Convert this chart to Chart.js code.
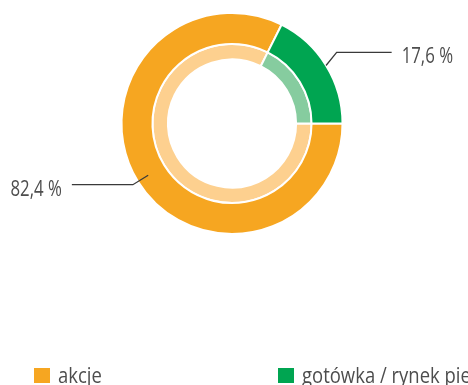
<!DOCTYPE html>
<html lang="pl">
<head>
<meta charset="utf-8">
<script src="https://cdn.jsdelivr.net/npm/chart.js@4.4.1/dist/chart.umd.min.js"></script>
<style>
  html, body { margin: 0; padding: 0; background: #fff; }
  #wrap { position: relative; width: 468px; height: 385px; overflow: hidden; }
</style>
</head>
<body>
<div id="wrap"><canvas id="alloc"></canvas></div>
<script>
  // struktura portfela
  var CATEGORIES = ["akcje", "gotówka / rynek pieniężny"];
  var SHARES = [82.4, 17.6];
  var SHARE_LABELS = ["82,4 %", "17,6 %"];
  var OUTER_COLORS = ["#f6a621", "#00a551"];
  var INNER_COLORS = ["#fdd08f", "#86cc9f"];

  var FONT = "21px 'Open Sans', 'Noto Sans', sans-serif";
  var TEXT_COLOR = "#4d4d4d";
  // linie odniesienia: start (w głąb pierścienia), łokieć (na zewnątrz, z lekkim skrętem w stopniach), poziomy odcinek
  var LEADER = [
    { inset: 12, out: 6, turn: 0, run: 61 },
    { inset: 0, out: 16, turn: -2.5, run: 55 }
  ];

  // krój bez wersji condensed — zwężamy skalą poziomą
  function narrowText(ctx, text, x, y, align, squeeze) {
    ctx.save();
    ctx.translate(x, y);
    ctx.scale(squeeze, 1);
    ctx.textAlign = align;
    ctx.textBaseline = "alphabetic";
    ctx.fillText(text, 0, 0);
    ctx.restore();
  }

  // opisy procentowe z linią odniesienia + legenda na dole
  var calloutPlugin = {
    id: "callouts",
    afterDatasetsDraw: function (chart) {
      var ctx = chart.ctx;
      var arcs = chart.getDatasetMeta(0).data;
      ctx.save();
      ctx.font = FONT;
      ctx.fillStyle = TEXT_COLOR;
      ctx.strokeStyle = "#3a3a3a";
      ctx.lineWidth = 1.3;
      arcs.forEach(function (arc, i) {
        var p = arc.getProps(["x", "y", "startAngle", "endAngle", "outerRadius"], true);
        var ld = LEADER[i];
        var mid = (p.startAngle + p.endAngle) / 2;
        var bend = mid + ld.turn * Math.PI / 180;
        var r0 = p.outerRadius - ld.inset, r1 = p.outerRadius + ld.out;
        var x0 = p.x + r0 * Math.cos(mid), y0 = p.y + r0 * Math.sin(mid);
        var x1 = p.x + r1 * Math.cos(bend), y1 = p.y + r1 * Math.sin(bend);
        var dir = Math.cos(mid) >= 0 ? 1 : -1;
        var x2 = x1 + dir * ld.run;
        ctx.beginPath();
        ctx.moveTo(x0, y0);
        ctx.lineTo(x1, y1);
        ctx.lineTo(x2, y1);
        ctx.stroke();
        narrowText(ctx, SHARE_LABELS[i], x2 + dir * 10, y1 + 11, dir > 0 ? "left" : "right", 0.8);
      });

      // legenda
      var legendX = [34, 278];
      CATEGORIES.forEach(function (name, i) {
        ctx.fillStyle = OUTER_COLORS[i];
        ctx.fillRect(legendX[i], 368, 16, 15);
        ctx.fillStyle = TEXT_COLOR;
        narrowText(ctx, name, legendX[i] + 24, 383, "left", 0.88);
      });
      ctx.restore();
    }
  };

  new Chart(document.getElementById("alloc"), {
    type: "doughnut",
    data: {
      labels: CATEGORIES,
      datasets: [
        { data: SHARES, backgroundColor: OUTER_COLORS, borderColor: "#fff", borderWidth: 2, weight: 2 },
        { data: SHARES, backgroundColor: INNER_COLORS, borderColor: "#fff", borderWidth: 2, weight: 1 }
      ]
    },
    options: {
      responsive: true,
      maintainAspectRatio: false,
      animation: false,
      rotation: 90,
      cutout: "58%",
      layout: { padding: { top: 12, bottom: 150, left: 0, right: 4 } },
      plugins: { legend: { display: false }, tooltip: { enabled: false } }
    },
    plugins: [calloutPlugin]
  });
</script>
</body>
</html>
